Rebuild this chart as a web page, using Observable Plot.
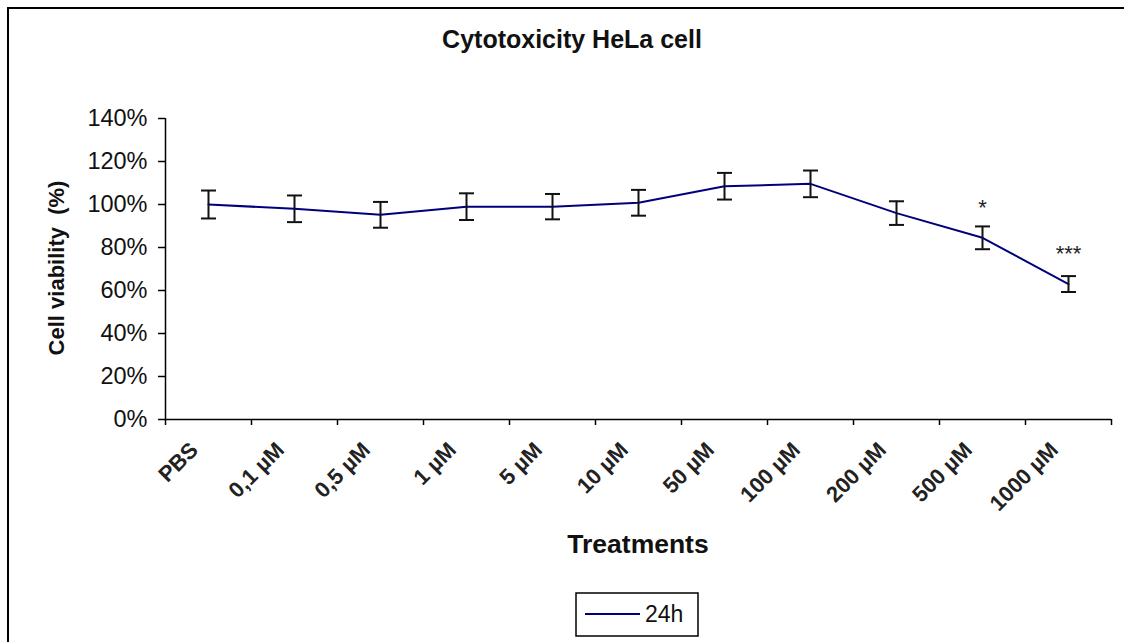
<!DOCTYPE html>
<html>
<head>
<meta charset="utf-8">
<script src="https://cdn.jsdelivr.net/npm/d3@7"></script>
<script src="https://cdn.jsdelivr.net/npm/@observablehq/plot@0.6"></script>
<style>
  html, body { margin: 0; padding: 0; background: #fff; overflow: hidden; }
  svg { font-family: "Liberation Sans", Arial, sans-serif; display: block; }
</style>
</head>
<body>
<div id="chart"></div>
<script>
const categories = ["PBS", "0,1 µM", "0,5 µM", "1 µM", "5 µM", "10 µM", "50 µM", "100 µM", "200 µM", "500 µM", "1000 µM"];
const viability = [1.00, 0.98, 0.952, 0.99, 0.99, 1.008, 1.085, 1.096, 0.96, 0.845, 0.63];
const errors = [0.065, 0.062, 0.060, 0.062, 0.059, 0.060, 0.062, 0.062, 0.055, 0.053, 0.037];
const starCategories = ["500 µM", "1000 µM"];
const starLabels = ["*", "***"];
const starY = [0.95, 0.735];
const yTicks = [0, 0.2, 0.4, 0.6, 0.8, 1.0, 1.2, 1.4];
const seriesName = "24h";
const titleText = "Cytotoxicity HeLa cell";
const xLabel = "Treatments";
const yLabel = "Cell viability  (%)";

const lineColor = "#00007f";
const data = categories.map((c, i) => ({cat: c, pos: i + 0.5, v: viability[i], e: errors[i]}));
const stars = starCategories.map((c, k) => ({pos: categories.indexOf(c) + 0.5, label: starLabels[k], y: starY[k]}));

const capSymbol = {
  draw(context, size) {
    const r = 7.5;
    context.moveTo(-r, 0);
    context.lineTo(r, 0);
  }
};

const W = 1124, H = 642;
const svg = Plot.plot({
  width: W,
  height: H,
  marginLeft: 165,
  marginRight: 13,
  marginTop: 118,
  marginBottom: 223,
  style: {fontFamily: "Liberation Sans, Arial, sans-serif", background: "white"},
  x: {type: "linear", domain: [0, categories.length]},
  y: {domain: [0, 1.4]},
  marks: [
    Plot.axisY({ticks: yTicks, tickFormat: d3.format(".0%"), tickSize: 7, tickPadding: 11, fontSize: 23.5, label: null, stroke: "#000", strokeWidth: 1.5, color: "#111"}),
    Plot.axisX({ticks: d3.range(categories.length + 1), tickFormat: () => "", tickSize: 6, label: null, stroke: "#000", strokeWidth: 1.5}),
    Plot.axisX({ticks: data.map(d => d.pos), tickFormat: p => categories[Math.floor(p)], tickSize: 0, tickRotate: -45, fontSize: 22, label: null, dx: -14, dy: 15, color: "#222", fontWeight: "bold"}),
    Plot.ruleX([0], {y1: 0, y2: 1.4, stroke: "#000", strokeWidth: 1.5}),
    Plot.ruleY([0], {x1: 0, x2: categories.length, stroke: "#000", strokeWidth: 1.5}),
    Plot.line(data, {x: "pos", y: "v", stroke: lineColor, strokeWidth: 2}),
    Plot.ruleX(data, {x: "pos", y1: d => d.v - d.e, y2: d => d.v + d.e, stroke: "#111", strokeWidth: 2}),
    Plot.dot(data, {x: "pos", y: d => d.v + d.e, symbol: capSymbol, stroke: "#111", strokeWidth: 2, fill: "none"}),
    Plot.dot(data, {x: "pos", y: d => d.v - d.e, symbol: capSymbol, stroke: "#111", strokeWidth: 2, fill: "none"}),
    Plot.text(stars, {x: "pos", y: "y", text: "label", fontSize: 22, lineAnchor: "bottom", fill: "#222"})
  ]
});

const s = d3.select(svg);
// frame (top and left edges; right and bottom lie outside the picture)
s.append("path").attr("d", `M8,${H}V8H${W}`)
  .attr("fill", "none").attr("stroke", "#000").attr("stroke-width", 2);
// title
s.append("text").attr("x", 572).attr("y", 48).attr("text-anchor", "middle")
  .attr("font-size", 25).attr("font-weight", "bold").attr("fill", "#111").text(titleText);
// x label
s.append("text").attr("x", 638).attr("y", 553).attr("text-anchor", "middle")
  .attr("font-size", 26.5).attr("font-weight", "bold").attr("fill", "#111").text(xLabel);
// y label
s.append("text").attr("transform", "translate(64,268) rotate(-90)").attr("text-anchor", "middle")
  .attr("font-size", 22).attr("font-weight", "bold").attr("fill", "#111")
  .style("white-space", "pre").text(yLabel);
// legend
const lg = s.append("g");
lg.append("rect").attr("x", 576).attr("y", 593).attr("width", 122).attr("height", 43)
  .attr("fill", "white").attr("stroke", "#000").attr("stroke-width", 1.5);
lg.append("line").attr("x1", 585).attr("x2", 640).attr("y1", 614).attr("y2", 614)
  .attr("stroke", lineColor).attr("stroke-width", 2);
lg.append("text").attr("x", 645).attr("y", 622).attr("text-anchor", "start")
  .attr("font-size", 23).attr("fill", "#111").text(seriesName);

document.getElementById("chart").appendChild(svg);
</script>
</body>
</html>
